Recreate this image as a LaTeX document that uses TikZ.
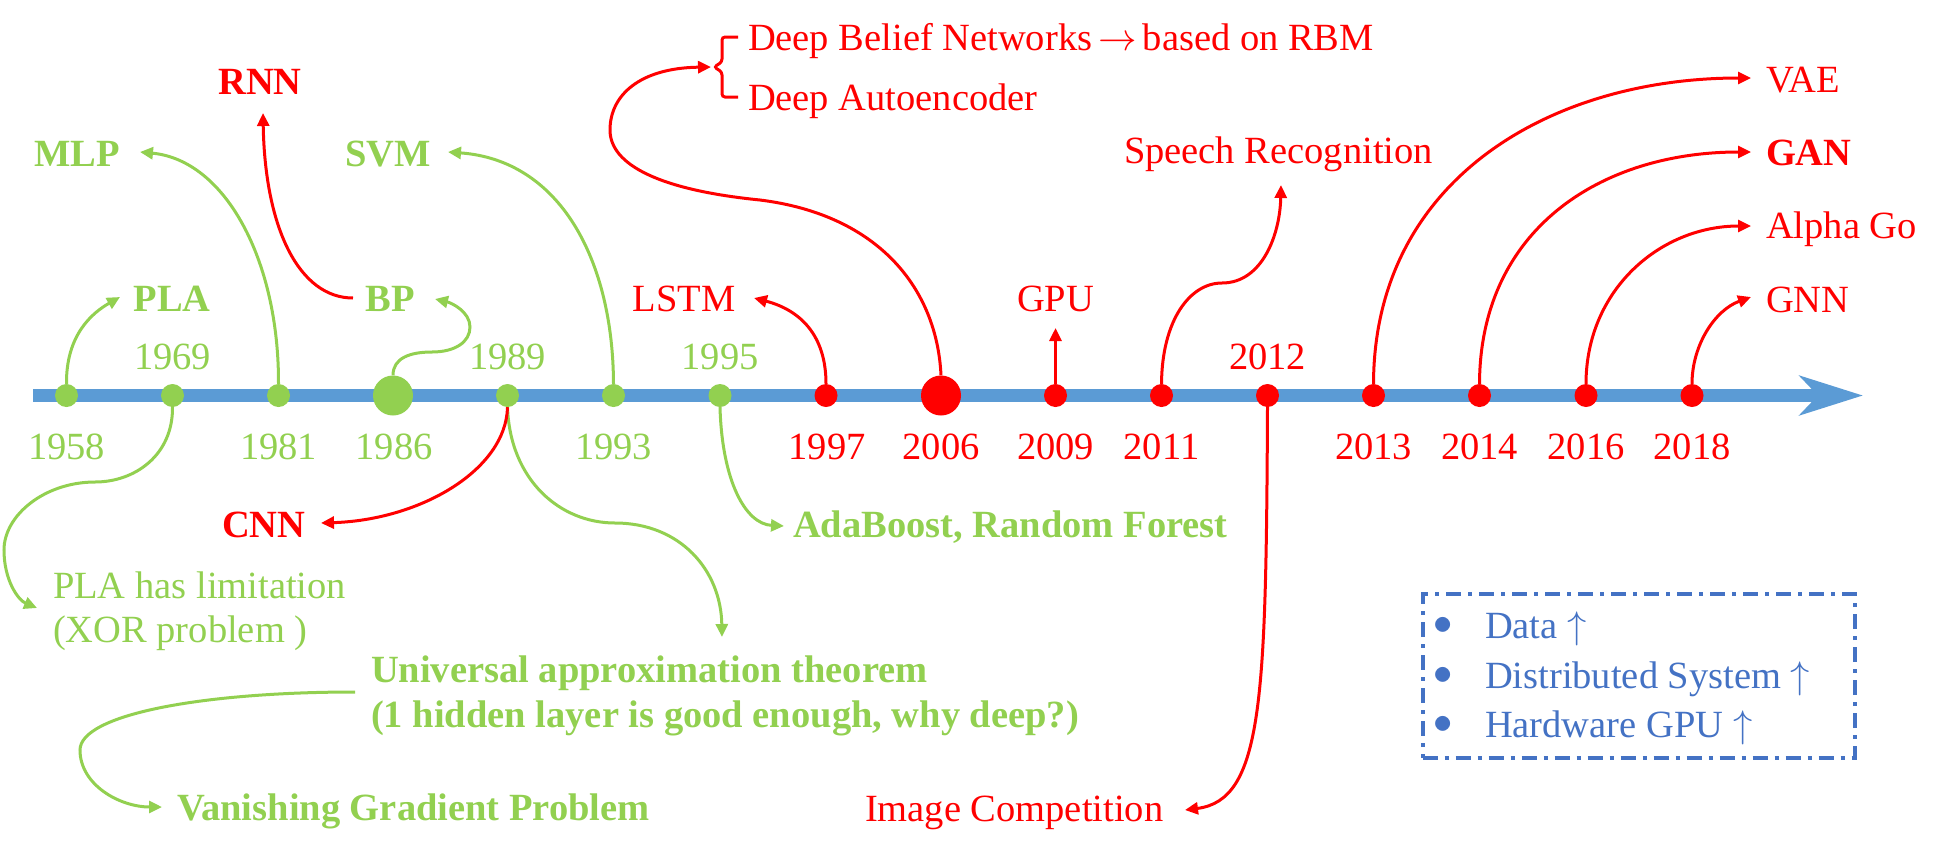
\documentclass[tikz,border=0pt]{standalone}
\usepackage{graphicx}
\usepackage{fontspec}
\setmainfont{Liberation Serif}
\usetikzlibrary{arrows.meta}
\definecolor{grn}{HTML}{92D050}
\definecolor{rd}{HTML}{FF0000}
\definecolor{tlblue}{HTML}{5B9BD5}
\definecolor{bx}{HTML}{4472C4}
\newcommand{\bigsym}[1]{\scalebox{3.85}{\fontsize{10}{12}\selectfont$#1$}}
\begin{document}
\begin{tikzpicture}[x=1pt,y=-1pt,
  txt/.style={inner sep=0pt, outer sep=0pt, font=\fontsize{38.5}{46}\selectfont},
  bld/.style={txt, font=\fontsize{38.5}{46}\selectfont\bfseries},
  gdot/.style={circle, fill=grn, inner sep=0pt, minimum size=23pt},
  rdot/.style={circle, fill=rd, inner sep=0pt, minimum size=23pt},
  bigdot/.style={minimum size=40pt},
  link/.style={line width=3pt, -{Triangle[length=13pt,width=12pt]}},
]
\useasboundingbox (0,0) rectangle (1935,849);

% timeline
\coordinate (tlstart) at (33,395.5);
\coordinate (tlend) at (1863,395.5);
\draw[tlblue, line width=13pt, -{Stealth[length=63pt,width=39pt,inset=18pt]}] (tlstart) -- (tlend);

% dots
\node[gdot] (d1958) at (66.5,395.5) {};
\node[gdot] (d1969) at (172.5,395.5) {};
\node[gdot] (d1981) at (278.5,395.5) {};
\node[gdot,bigdot] (d1986) at (393,395.5) {};
\node[gdot] (d1989) at (507.5,395.5) {};
\node[gdot] (d1993) at (613.5,395.5) {};
\node[gdot] (d1995) at (720,395.5) {};
\node[rdot] (d1997) at (826,395.5) {};
\node[rdot,bigdot] (d2006) at (941,395.5) {};
\node[rdot] (d2009) at (1055.5,395.5) {};
\node[rdot] (d2011) at (1161.5,395.5) {};
\node[rdot] (d2012) at (1267.5,395.5) {};
\node[rdot] (d2013) at (1373.5,395.5) {};
\node[rdot] (d2014) at (1479.5,395.5) {};
\node[rdot] (d2016) at (1586,395.5) {};
\node[rdot] (d2018) at (1692,395.5) {};

% years
\node[txt, grn, anchor=base] (y1958) at (66.5,459) {1958};
\node[txt, grn, anchor=base] (y1969) at (172.5,369) {1969};
\node[txt, grn, anchor=base] (y1981) at (278.5,459) {1981};
\node[txt, grn, anchor=base] (y1986) at (394,459) {1986};
\node[txt, grn, anchor=base] (y1989) at (507.5,369) {1989};
\node[txt, grn, anchor=base] (y1993) at (613.5,459) {1993};
\node[txt, grn, anchor=base] (y1995) at (720,369) {1995};
\node[txt, rd, anchor=base] (y1997) at (827,459) {1997};
\node[txt, rd, anchor=base] (y2006) at (941,459) {2006};
\node[txt, rd, anchor=base] (y2009) at (1055.5,459) {2009};
\node[txt, rd, anchor=base] (y2011) at (1161.5,459) {2011};
\node[txt, rd, anchor=base] (y2012) at (1267.5,369) {2012};
\node[txt, rd, anchor=base] (y2013) at (1373.5,459) {2013};
\node[txt, rd, anchor=base] (y2014) at (1479.5,459) {2014};
\node[txt, rd, anchor=base] (y2016) at (1586,459) {2016};
\node[txt, rd, anchor=base] (y2018) at (1692,459) {2018};

% labels
\node[bld, grn, anchor=base] (mlp) at (77,166) {MLP};
\node[bld, rd, anchor=base] (rnn) at (260,94) {RNN};
\node[bld, grn, anchor=base] (svm) at (388,166) {SVM};
\node[bld, grn, anchor=base] (pla) at (172,311) {PLA};
\node[bld, grn, anchor=base] (bp) at (390,311) {BP};
\node[txt, rd, anchor=base] (lstm) at (684,311) {LSTM};
\node[txt, rd, anchor=base] (gpu) at (1055.5,311) {GPU};
\node[txt, rd, anchor=base west] (dbn) at (748,50) {Deep Belief Networks\hspace{6pt}\bigsym{\rightarrow}\hspace{6pt}based on RBM};
\node[txt, rd, anchor=base west] (dae) at (748,110) {Deep Autoencoder};
\node[txt, rd, anchor=base west] (speech) at (1124,163) {Speech Recognition};
\node[txt, rd, anchor=base west] (vae) at (1766,92) {VAE};
\node[bld, rd, anchor=base west] (gan) at (1766,165) {GAN};
\node[txt, rd, anchor=base west] (alphago) at (1766,238) {Alpha Go};
\node[txt, rd, anchor=base west] (gnn) at (1766,312) {GNN};
\node[bld, rd, anchor=base west] (cnn) at (222,537) {CNN};
\node[bld, grn, anchor=base west] (ada) at (793,537) {AdaBoost, Random Forest};
\node[txt, grn, anchor=base west] (plalim) at (53,598) {PLA has limitation};
\node[txt, grn, anchor=base west] (xor) at (53,642) {(XOR problem )};
\node[bld, grn, anchor=base west] (uat) at (371,682) {Universal approximation theorem};
\node[bld, grn, anchor=base west] (uat2) at (371,727) {(1 hidden layer is good enough, why deep?)};
\node[bld, grn, anchor=base west] (vgp) at (177,820) {Vanishing Gradient Problem};
\node[txt, rd, anchor=base west] (imgc) at (865,821) {Image Competition};

% arrow end points
\coordinate (tPLA) at (120,297);
\coordinate (tMLP) at (140,152);
\coordinate (sRNN) at (353,298);
\coordinate (tRNN) at (263,113);
\coordinate (tBP) at (435,299);
\coordinate (tSVM) at (448,152);
\coordinate (tLSTM) at (754,298);
\coordinate (tGPU) at (1055.5,328);
\coordinate (tBrace) at (711,67);
\coordinate (tSpeech) at (1281,185);
\coordinate (tVAE) at (1751,78);
\coordinate (tGAN) at (1751,152);
\coordinate (tAlpha) at (1751,226);
\coordinate (tGNN) at (1751,297);
\coordinate (tXOR) at (37,608);
\coordinate (tCNN) at (321,523);
\coordinate (tUAT) at (722,637);
\coordinate (sVGP) at (355,692);
\coordinate (tVGP) at (162,807);
\coordinate (tAda) at (784,526);
\coordinate (tImg) at (1185,810);

% green connectors
\draw[grn, link] (d1958.north) .. controls (66,335) and (92,313) .. (tPLA);
\draw[grn, link] (d1981.north) .. controls (279,260) and (225,160) .. (tMLP);
\draw[grn, link] (d1986.north) .. controls (393,358) and (410,352) .. (432,352)
   .. controls (455,352) and (470,342) .. (470,327)
   .. controls (470,312) and (452,303) .. (tBP);
\draw[grn, link] (d1993.north) .. controls (613,260) and (560,160) .. (tSVM);
\draw[grn, link] (d1969.south) .. controls (173,455) and (135,482) .. (95,482)
   .. controls (45,482) and (4,515) .. (4,550)
   .. controls (4,580) and (18,600) .. (tXOR);
\draw[grn, link] (d1989.south) .. controls (510,480) and (560,523) .. (615,523)
   .. controls (680,523) and (721,570) .. (tUAT);
\draw[grn, link] (sVGP) .. controls (200,692) and (80,715) .. (80,750)
   .. controls (80,785) and (120,807) .. (tVGP);
\draw[grn, link] (d1995.south) .. controls (722,480) and (745,524) .. (tAda);

% red connectors
\draw[rd, link] (sRNN) .. controls (300,298) and (265,230) .. (tRNN);
\draw[rd, link] (d1989.south) .. controls (506,470) and (420,520) .. (tCNN);
\draw[rd, link] (d1997.north) .. controls (826,335) and (800,310) .. (tLSTM);
\draw[rd, link] (d2009.north) -- (tGPU);
\draw[rd, link] (d2006.north) .. controls (937,290) and (880,215) .. (760,200)
   .. controls (660,190) and (610,165) .. (610,130)
   .. controls (610,95) and (640,68) .. (tBrace);
\draw[rd, line width=3pt, rounded corners=3pt] (738,37) -- (722,37) -- (722,62) -- (714,67) -- (722,72) -- (722,97) -- (738,97);
\draw[rd, link] (d2011.north) .. controls (1162,320) and (1190,283) .. (1222,283)
   .. controls (1262,283) and (1280,235) .. (tSpeech);
\draw[rd, link] (d2012.south) .. controls (1266,700) and (1263,800) .. (tImg);
\draw[rd, link] (d2013.north) .. controls (1374,180) and (1550,78) .. (tVAE);
\draw[rd, link] (d2014.north) .. controls (1480,230) and (1600,152) .. (tGAN);
\draw[rd, link] (d2016.north) .. controls (1586,290) and (1660,226) .. (tAlpha);
\draw[rd, link] (d2018.north) .. controls (1692,345) and (1715,310) .. (tGNN);

% legend box
\node[draw=bx, line width=4pt, dash pattern=on 15pt off 7pt on 4pt off 7pt,
      minimum width=432pt, minimum height=164pt, inner sep=0pt] (legend) at (1638.5,676) {};
\node[txt, bx, anchor=base west] (l1) at (1433,638) {\makebox[52pt][l]{\raisebox{4pt}{\bigsym{\bullet}}}Data \bigsym{\uparrow}};
\node[txt, bx, anchor=base west] (l2) at (1433,688) {\makebox[52pt][l]{\raisebox{4pt}{\bigsym{\bullet}}}Distributed System \bigsym{\uparrow}};
\node[txt, bx, anchor=base west] (l3) at (1433,737) {\makebox[52pt][l]{\raisebox{4pt}{\bigsym{\bullet}}}Hardware GPU \bigsym{\uparrow}};
\end{tikzpicture}
\end{document}
